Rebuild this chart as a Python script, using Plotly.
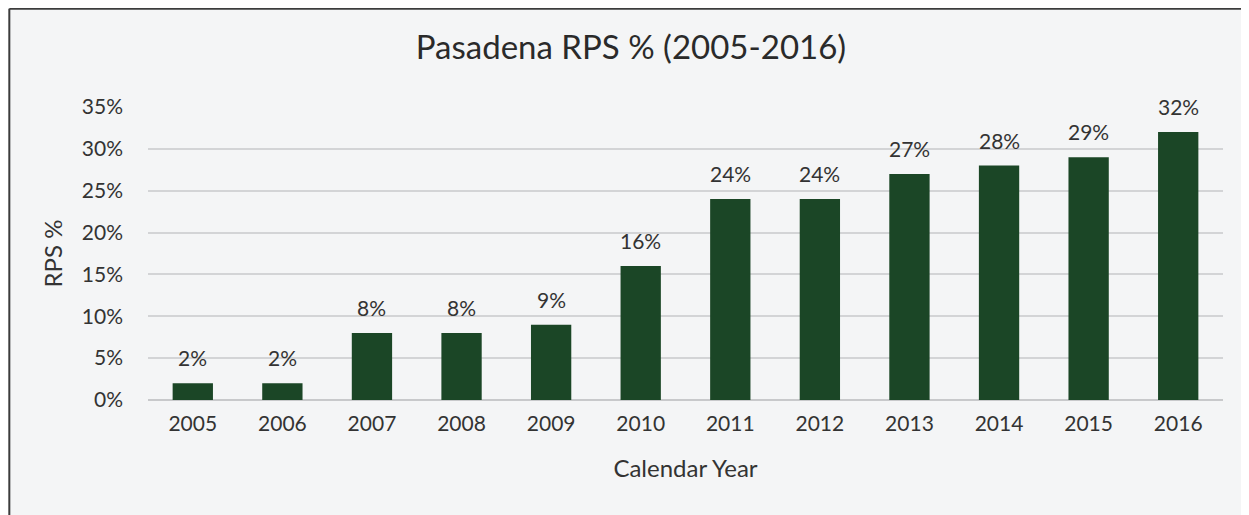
import plotly.graph_objects as go

years = ["2005", "2006", "2007", "2008", "2009", "2010", "2011", "2012", "2013", "2014", "2015", "2016"]
rps = [0.02, 0.02, 0.08, 0.08, 0.09, 0.16, 0.24, 0.24, 0.27, 0.28, 0.29, 0.32]
y_ticks = [0, 0.05, 0.10, 0.15, 0.20, 0.25, 0.30, 0.35]
y_tick_labels = ["0%", "5%", "10%", "15%", "20%", "25%", "30%", "35%"]

FONT = "Lato, 'Open Sans', sans-serif"
TXT = "#333333"
BAR = "#1b4626"

fig = go.Figure()
fig.add_trace(go.Bar(
    x=years, y=rps,
    marker=dict(color=BAR, line=dict(width=0)),
    hoverinfo="x+y",
))

# category axis: annotation x given as category index
for i, v in enumerate(rps):
    fig.add_annotation(
        x=i, y=v, text=f"{round(v*100)}%", showarrow=False,
        yanchor="bottom", yshift=11,
        font=dict(family=FONT, size=21, color=TXT),
    )

fig.update_layout(
    width=1241, height=507,
    margin=dict(l=140, r=26, t=99, b=115),
    paper_bgcolor="#f4f5f6", plot_bgcolor="#f4f5f6",
    bargap=0.55,
    showlegend=False,
    title=dict(
        text="Pasadena RPS % (2005-2016)",
        x=0.502, xanchor="center", y=0.922, yanchor="middle",
        font=dict(family=FONT, size=33, color="#2a2a2a"),
    ),
    xaxis=dict(
        type="category",
        tickfont=dict(family=FONT, size=21, color=TXT),
        showgrid=False, showline=False, ticks="", ticklabelstandoff=9,
        title=dict(text="Calendar Year", font=dict(family=FONT, size=24, color=TXT), standoff=26),
    ),
    yaxis=dict(
        range=[0, 0.35],
        tickvals=y_ticks, ticktext=y_tick_labels,
        tickfont=dict(family=FONT, size=21, color=TXT),
        showgrid=True, gridcolor="#d3d4d6", gridwidth=1.5,
        zeroline=True, zerolinecolor="#c8c9cb", zerolinewidth=1.5,
        ticks="", ticklabelstandoff=24,
        title=dict(text="RPS %", font=dict(family=FONT, size=24, color=TXT), standoff=12),
    ),
    shapes=[
        dict(type="line", xref="paper", yref="paper", x0=-0.129, x1=1.03, y0=1.335, y1=1.335,
             line=dict(color="#3c3c3c", width=2)),
        dict(type="line", xref="paper", yref="paper", x0=-0.129, x1=-0.129, y0=1.335, y1=-0.45,
             line=dict(color="#3c3c3c", width=2)),
    ],
)

fig.write_html("out.html")
